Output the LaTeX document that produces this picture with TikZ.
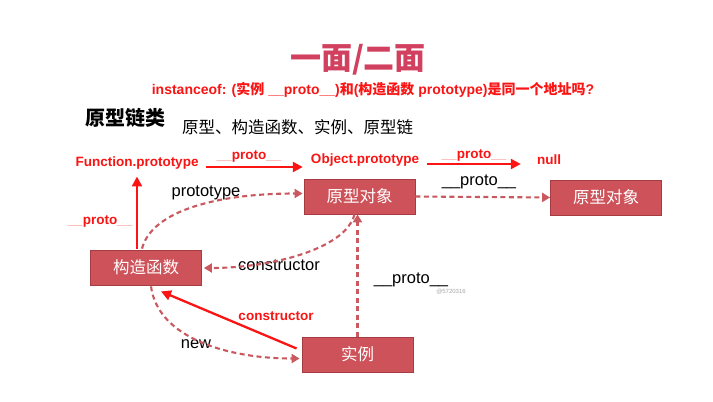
\documentclass[tikz,border=0pt]{standalone}
\usepackage{fontspec}
\setmainfont{Liberation Sans}
\newfontfamily\cjk{Noto Sans CJK SC}
\usetikzlibrary{arrows.meta,calc}
\definecolor{boxfill}{HTML}{CD5259}
\definecolor{boxline}{HTML}{A53C42}
\definecolor{linkline}{HTML}{C9585F}
\definecolor{hotred}{HTML}{FA1414}
\definecolor{titlered}{HTML}{D2405F}
\newcommand{\pinkbar}{{\color{hotred!50}\_\_}}
\begin{document}
\begin{tikzpicture}[x=1pt,y=-1pt,
  conceptbox/.style={draw=boxline,line width=0.8pt,fill=boxfill,minimum width=111pt,
    minimum height=35pt,inner sep=0pt,text=white,font=\cjk\fontsize{16.5}{18}\selectfont},
  redtag/.style={text=hotred,font=\bfseries\fontsize{13.5}{15}\selectfont,inner sep=0pt},
  blacktag/.style={font=\fontsize{16.5}{18}\selectfont,inner sep=0pt},
  linkarrow/.style={draw=linkline,line width=2.1pt,dash pattern=on 5pt off 3.5pt,
    -{Triangle[length=8pt,width=9pt]}},
  redarrow/.style={draw=hotred,line width=2.3pt,-{Triangle[length=10pt,width=10pt]}},
]
\useasboundingbox[fill=white] (0,0) rectangle (713,402);

% headings
\node[text=titlered,font=\cjk\bfseries\fontsize{31}{34}\selectfont] (title) at (358,60) {一面/二面};
\node[redtag,font=\bfseries\fontsize{14}{16}\selectfont] (question) at (373,90)
  {instanceof: ({\cjk 实例} \_\_proto\_\_){\cjk 和}({\cjk 构造函数} prototype){\cjk 是同一个地址吗}?};
\node[anchor=west,inner sep=0pt,font=\cjk\bfseries\fontsize{20}{22}\selectfont] (topic) at (85,118) {原型链类};
\node[anchor=west,inner sep=0pt,font=\cjk\fontsize{16.5}{18}\selectfont] (keywords) at (182,127) {原型、构造函数、实例、原型链};

% prototype chain (top row)
\node[redtag] (fp) at (137,163) {Function.prototype};
\node[redtag] (op) at (365,160) {Object.prototype};
\node[redtag] (nullend) at (549,160) {null};
\node[redtag] (fptag) at (249,156) {\pinkbar proto\pinkbar};
\node[redtag] (optag) at (474,155) {\pinkbar proto\pinkbar};

% concept boxes
\node[conceptbox] (proto) at (359.5,196.5) {原型对象};
\node[conceptbox] (protoup) at (606,197.5) {原型对象};
\node[conceptbox] (ctor) at (146,267.5) {构造函数};
\node[conceptbox] (inst) at (357.5,354.5) {实例};

% labels
\node[blacktag] (lblprototype) at (206,193) {prototype};
\node[blacktag] (lblconstructor) at (279,265) {constructor};
\node[blacktag] (lblprotoright) at (479,182) {\_\_proto\_\_};
\node[blacktag] (lblprotoinst) at (411,280) {\_\_proto\_\_};
\node[inner sep=0pt,text=black!35,font=\fontsize{6}{7}\selectfont] (mark) at (451,292) {@5720316};
\node[blacktag] (lblnew) at (196,344) {new};
\node[redtag] (lblredctor) at (276,316) {constructor};
\node[redtag] (lblfnproto) at (100,221) {\pinkbar proto\pinkbar};

% red solid links
\coordinate (fpout) at ($(fp.east)+(7,4)$);
\coordinate (opin) at ($(op.west |- fpout)+(-8,0)$);
\draw[redarrow] (fpout) -- (opin);
\coordinate (opout) at ($(op.east)+(8,4)$);
\coordinate (nullin) at ($(nullend.west |- opout)+(-16,0)$);
\draw[redarrow] (opout) -- (nullin);
\coordinate (ctorup) at ($(ctor.north)+(-9,-1)$);
\coordinate (fpin) at ($(ctorup |- fp.south)+(0,7)$);
\draw[redarrow] (ctorup) -- (fpin);
\draw[redarrow] ($(inst.west)+(-5,-6)$) -- ($(ctor.south)+(15,6)$);

% dashed links
\draw[linkarrow] ($(ctor.north)+(-4,-1)$) .. controls +(10,-38) and +(-85,0) .. ($(proto.west)+(-1,-3)$);
\draw[linkarrow] ($(proto.south)+(-5,0)$) .. controls +(-9,35) and +(66,0) .. ($(ctor.east)+(2,0.5)$);
\draw[linkarrow] (proto.east) -- (protoup.west);
\draw[linkarrow] (inst.north) -- (inst.north |- proto.south);
\draw[linkarrow] ($(ctor.south)+(5,1)$) .. controls +(7,52) and +(-71,0) .. ($(inst.west)+(-2,4)$);
\end{tikzpicture}
\end{document}
